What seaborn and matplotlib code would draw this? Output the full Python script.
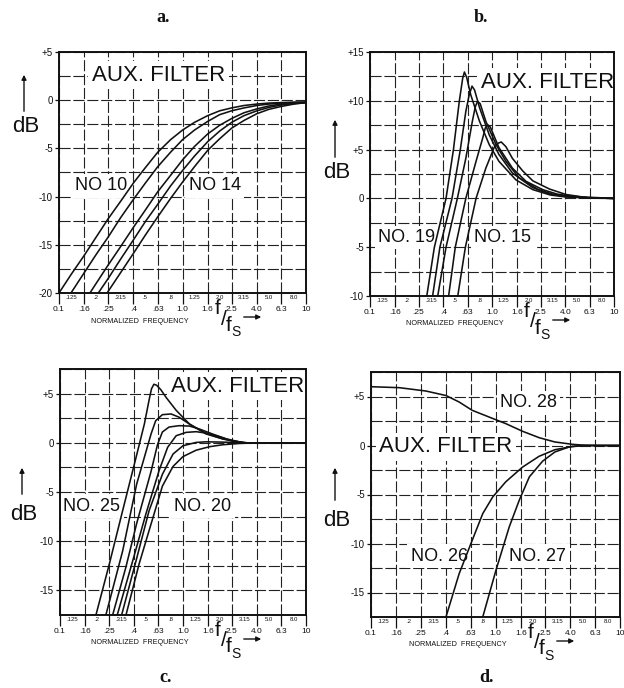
import matplotlib
matplotlib.use("Agg")
import matplotlib.pyplot as plt
import seaborn as sns
from matplotlib.patches import FancyArrowPatch

# ---------------------------------------------------------------- axis tick values
GRID_FREQ = [0.1, 0.16, 0.25, 0.4, 0.63, 1.0, 1.6, 2.5, 4.0, 6.3, 10]
GRID_LABELS = ["0.1", ".16", ".25", ".4", ".63", "1.0", "1.6", "2.5", "4.0", "6.3", "10"]
MID_FREQ = [0.125, 0.2, 0.315, 0.5, 0.8, 1.25, 2.0, 3.15, 5.0, 8.0]
MID_LABELS = [".125", ".2", ".315", ".5", ".8", "1.25", "2.0", "3.15", "5.0", "8.0"]

# ---------------------------------------------------------------- a. filters No 10 .. No 14
A10_F = [0.1, 0.125, 0.16, 0.2, 0.25, 0.315, 0.4, 0.5, 0.63, 0.8, 1.0, 1.25, 1.6, 2.0, 2.5, 3.15, 4.0, 5.0, 6.3, 8.0, 10]
A10_DB = [-20.0, -18.1, -16.1, -14.2, -12.3, -10.5, -8.6, -7.0, -5.4, -4.1, -3.1, -2.3, -1.6, -1.1, -0.8, -0.55, -0.4, -0.3, -0.25, -0.2, -0.2]
A11_F = [0.125, 0.16, 0.2, 0.25, 0.315, 0.4, 0.5, 0.63, 0.8, 1.0, 1.25, 1.6, 2.0, 2.5, 3.15, 4.0, 5.0, 6.3, 8.0, 10]
A11_DB = [-20.0, -17.9, -16.0, -14.2, -12.2, -10.3, -8.6, -6.9, -5.4, -4.1, -3.1, -2.2, -1.5, -1.1, -0.8, -0.55, -0.4, -0.3, -0.25, -0.2]
A12_F = [0.178, 0.2, 0.25, 0.315, 0.4, 0.5, 0.63, 0.8, 1.0, 1.25, 1.6, 2.0, 2.5, 3.15, 4.0, 5.0, 6.3, 8.0, 10]
A12_DB = [-20.0, -19.0, -17.1, -15.2, -13.2, -11.4, -9.5, -7.8, -6.2, -4.8, -3.5, -2.6, -1.9, -1.3, -0.9, -0.6, -0.4, -0.3, -0.25]
A13_F = [0.208, 0.25, 0.315, 0.4, 0.5, 0.63, 0.8, 1.0, 1.25, 1.6, 2.0, 2.5, 3.15, 4.0, 5.0, 6.3, 8.0, 10]
A13_DB = [-20.0, -18.5, -16.5, -14.5, -12.6, -10.8, -8.9, -7.3, -5.8, -4.3, -3.2, -2.3, -1.6, -1.1, -0.75, -0.5, -0.35, -0.25]
A14_F = [0.245, 0.315, 0.4, 0.5, 0.63, 0.8, 1.0, 1.25, 1.6, 2.0, 2.5, 3.15, 4.0, 5.0, 6.3, 8.0, 10]
A14_DB = [-20.0, -17.9, -15.9, -14.0, -12.1, -10.2, -8.5, -6.9, -5.2, -4.0, -2.9, -2.1, -1.4, -0.95, -0.65, -0.4, -0.25]

# ---------------------------------------------------------------- b. filters No 15 .. No 19
B19_F = [0.292, 0.337, 0.42, 0.483, 0.54, 0.575, 0.594, 0.62, 0.67, 0.79, 0.95, 1.14, 1.57, 2.16, 3.0, 4.0, 6.3, 10]
B19_DB = [-10, -5, 0, 5, 10, 12.3, 12.95, 12.4, 10.6, 7.9, 5.5, 3.8, 1.9, 0.9, 0.35, 0.15, 0.03, 0]
B18_F = [0.326, 0.374, 0.47, 0.55, 0.61, 0.65, 0.686, 0.72, 0.79, 0.95, 1.14, 1.47, 2.16, 3.0, 4.0, 6.3, 10]
B18_DB = [-10, -5, 0, 5, 8.9, 10.6, 11.5, 11.1, 9.3, 6.5, 4.5, 2.6, 1.1, 0.45, 0.2, 0.05, 0]
B17_F = [0.359, 0.42, 0.52, 0.61, 0.69, 0.73, 0.762, 0.8, 0.89, 1.08, 1.3, 1.67, 2.4, 3.2, 4.0, 6.3, 10]
B17_DB = [-10, -5, 0, 4.1, 7.9, 9.4, 9.95, 9.7, 7.9, 5.5, 3.8, 2.1, 0.9, 0.4, 0.2, 0.05, 0]
B16_F = [0.441, 0.5, 0.61, 0.74, 0.84, 0.88, 0.922, 0.97, 1.14, 1.47, 1.9, 2.6, 3.4, 4.04, 6.3, 10]
B16_DB = [-10, -5, 0, 3.8, 6.2, 7.2, 7.55, 7.3, 5.2, 3.1, 1.75, 0.9, 0.45, 0.3, 0.07, 0]
B15_F = [0.524, 0.605, 0.74, 0.89, 1.04, 1.12, 1.19, 1.3, 1.47, 1.79, 2.16, 2.96, 4.04, 5.5, 10]
B15_DB = [-10, -5, 0, 3.1, 5.2, 5.65, 5.78, 5.3, 4.1, 2.8, 1.8, 0.96, 0.4, 0.15, 0]

# ---------------------------------------------------------------- c. filters No 20 .. No 25
C25_F = [0.196, 0.252, 0.323, 0.415, 0.485, 0.532, 0.555, 0.58, 0.61, 0.66, 0.73, 0.88, 1.13, 1.54, 2.1, 2.7, 3.3, 10]
C25_DB = [-17.5, -12.3, -6.9, -1.5, 1.9, 4.45, 5.5, 5.95, 5.85, 5.4, 4.6, 3.3, 1.9, 0.9, 0.4, 0.1, 0, 0]
C24_F = [0.236, 0.323, 0.42, 0.55, 0.6, 0.68, 0.8, 0.93, 1.13, 1.54, 2.1, 3.1, 10]
C24_DB = [-17.5, -11.0, -4.2, 0.9, 2.25, 2.86, 2.93, 2.6, 1.9, 0.95, 0.4, 0, 0]
C23_F = [0.268, 0.344, 0.42, 0.55, 0.62, 0.68, 0.77, 0.93, 1.13, 1.36, 1.75, 2.25, 3.1, 10]
C23_DB = [-17.5, -12.6, -8.2, -2.9, -0.2, 1.1, 1.6, 1.74, 1.7, 1.4, 0.88, 0.4, 0, 0]
C22_F = [0.292, 0.39, 0.5, 0.64, 0.75, 0.88, 1.06, 1.28, 1.54, 1.97, 2.5, 3.3, 10]
C22_DB = [-17.5, -12.0, -7.2, -2.8, -0.46, 0.72, 1.06, 1.13, 0.99, 0.62, 0.2, 0, 0]
C21_F = [0.317, 0.415, 0.53, 0.68, 0.83, 1.0, 1.28, 1.54, 2.1, 3.1, 10]
C21_DB = [-17.5, -12.0, -6.9, -3.2, -1.14, -0.3, 0.04, 0.1, 0.07, 0, 0]
C20_F = [0.344, 0.44, 0.57, 0.68, 0.83, 1.0, 1.28, 1.64, 2.1, 2.85, 3.9, 10]
C20_DB = [-17.5, -12.3, -7.6, -4.4, -2.4, -1.4, -0.75, -0.4, -0.2, -0.07, 0, 0]

# ---------------------------------------------------------------- d. filters No 26 .. No 28
D28_F = [0.1, 0.169, 0.276, 0.4, 0.51, 0.65, 0.89, 1.21, 1.65, 2.24, 3.0, 4.15, 5.3, 6.8, 10]
D28_DB = [6.0, 5.9, 5.56, 5.1, 4.44, 3.59, 2.9, 2.23, 1.45, 0.8, 0.36, 0.12, 0.02, 0, 0]
D26_F = [0.4, 0.51, 0.635, 0.79, 0.95, 1.21, 1.65, 2.24, 3.0, 4.15, 5.3, 10]
D26_DB = [-17.5, -13.1, -10.0, -6.95, -5.25, -3.7, -2.2, -1.1, -0.43, -0.09, 0, 0]
D27_F = [0.79, 1.01, 1.29, 1.55, 1.87, 2.39, 3.0, 3.9, 5.0, 10]
D27_DB = [-17.5, -12.7, -8.3, -5.6, -3.2, -1.6, -0.66, -0.15, 0, 0]

# ---------------------------------------------------------------- style
sns.set_style("white")
plt.rcParams["font.family"] = ["Liberation Sans", "DejaVu Sans"]

W, H = 624, 688
fig = plt.figure(figsize=(W / 100, H / 100), dpi=100)
fig.patch.set_facecolor("white")

INK = "#111111"
GRID_KW = dict(color="#222222", lw=0.8, ls=(0, (10, 2.5)))


def fx(x):
    return x / W


def fy(y):
    return 1 - y / H


def make_axes(left, top, right, bottom):
    return fig.add_axes([left / W, 1 - bottom / H, (right - left) / W, (bottom - top) / H])


def setup(ax, ylo, yhi, ylab_vals, ylab_text):
    ax.set_xscale("log")
    ax.set_xlim(0.1, 10)
    ax.set_ylim(ylo, yhi)
    ax.set_xticks(GRID_FREQ)
    ax.set_xticklabels(GRID_LABELS)
    ax.set_xticks(MID_FREQ, minor=True)
    ax.set_xticklabels(MID_LABELS, minor=True)
    ax.set_yticks(ylab_vals)
    ax.set_yticklabels(ylab_text)
    minor_y = []
    v = ylo
    while v <= yhi + 1e-9:
        if abs(v / 5 - round(v / 5)) > 1e-6:
            minor_y.append(v)
        v += 2.5
    ax.set_yticks(minor_y, minor=True)
    ax.tick_params(axis="x", which="major", bottom=True, length=8, width=0.9,
                   pad=1.5, labelsize=6, colors=INK, direction="out")
    ax.tick_params(axis="x", which="minor", bottom=True, length=0, pad=1.3,
                   labelsize=4.3, colors=INK)
    ax.tick_params(axis="y", which="major", left=True, length=3, width=0.9,
                   pad=1.5, labelsize=7, colors=INK)
    ax.tick_params(axis="y", which="minor", left=True, length=0)
    ax.set_axisbelow(True)
    ax.xaxis.grid(True, which="major", **GRID_KW)
    ax.yaxis.grid(True, which="both", **GRID_KW)
    for s in ax.spines.values():
        s.set_visible(True)
        s.set_color(INK)
        s.set_linewidth(1.4)
    ax.set_xlabel("")
    ax.set_ylabel("")


def curve(ax, f, db):
    sns.lineplot(x=f, y=db, ax=ax, color=INK, lw=1.15, estimator=None,
                 sort=False, zorder=4)


def tag(ax, x, y, s, size):
    ax.text(x, y, s, ha="center", va="center", fontsize=size, color=INK,
            zorder=2.2, bbox=dict(facecolor="white", edgecolor="none", pad=2.5))


def arrow(x0, y0, x1, y1):
    fig.add_artist(FancyArrowPatch((fx(x0), fy(y0)), (fx(x1), fy(y1)),
                                   transform=fig.transFigure, arrowstyle="-|>",
                                   mutation_scale=7, lw=1.0, color=INK))


def decorations(db_x, db_y, arr_top, arr_bot, nf_x, nf_y, fs_x, fs_y):
    # vertical dB arrow and label
    arrow(db_x - 2, arr_bot, db_x - 2, arr_top)
    fig.text(fx(db_x), fy(db_y), "dB", ha="center", va="center", fontsize=16, color=INK)
    # frequency axis caption
    fig.text(fx(nf_x), fy(nf_y), "NORMALIZED  FREQUENCY", ha="center", va="center",
             fontsize=5.2, color=INK)
    # stacked f / f_S fraction with a pointer to the right
    fig.text(fx(fs_x), fy(fs_y), "f", ha="center", va="center", fontsize=15, color=INK)
    fig.text(fx(fs_x + 6), fy(fs_y + 10), "/", ha="center", va="center", fontsize=15, color=INK)
    fig.text(fx(fs_x + 11), fy(fs_y + 16), "f", ha="center", va="center", fontsize=15, color=INK)
    fig.text(fx(fs_x + 18), fy(fs_y + 23), "S", ha="center", va="center", fontsize=10, color=INK)
    arrow(fs_x + 23, fs_y + 8, fs_x + 46, fs_y + 8)


# ---------------------------------------------------------------- panel a
ax_a = make_axes(59, 52, 306, 293)
setup(ax_a, -20, 5, [5, 0, -5, -10, -15, -20], ["+5", "0", "-5", "-10", "-15", "-20"])
for f, d in [(A10_F, A10_DB), (A11_F, A11_DB), (A12_F, A12_DB), (A13_F, A13_DB), (A14_F, A14_DB)]:
    curve(ax_a, f, d)
tag(ax_a, 0.64, 2.6, "AUX. FILTER", 16)
tag(ax_a, 0.218, -8.9, "NO 10", 13)
tag(ax_a, 1.82, -8.9, "NO 14", 13)
decorations(26, 127, 72, 114, 140, 321, 218, 309)

# ---------------------------------------------------------------- panel b
ax_b = make_axes(370, 52, 614, 296)
setup(ax_b, -10, 15, [15, 10, 5, 0, -5, -10], ["+15", "+10", "+5", "0", "-5", "-10"])
for f, d in [(B19_F, B19_DB), (B18_F, B18_DB), (B17_F, B17_DB), (B16_F, B16_DB), (B15_F, B15_DB)]:
    curve(ax_b, f, d)
tag(ax_b, 2.85, 11.9, "AUX. FILTER", 16)
tag(ax_b, 0.2, -4.0, "NO. 19", 13)
tag(ax_b, 1.23, -4.0, "NO. 15", 13)
decorations(337, 172, 117, 160, 455, 324, 527, 312)

# ---------------------------------------------------------------- panel c
ax_c = make_axes(60, 369, 306, 615)
setup(ax_c, -17.5, 7.5, [5, 0, -5, -10, -15], ["+5", "0", "-5", "-10", "-15"])
for f, d in [(C25_F, C25_DB), (C24_F, C24_DB), (C23_F, C23_DB), (C22_F, C22_DB),
             (C21_F, C21_DB), (C20_F, C20_DB)]:
    curve(ax_c, f, d)
tag(ax_c, 2.77, 5.74, "AUX. FILTER", 16)
tag(ax_c, 0.181, -6.45, "NO. 25", 13)
tag(ax_c, 1.45, -6.45, "NO. 20", 13)
decorations(24, 515, 465, 497, 140, 643, 218, 631)

# ---------------------------------------------------------------- panel d
ax_d = make_axes(371, 372, 620, 617)
setup(ax_d, -17.5, 7.5, [5, 0, -5, -10, -15], ["+5", "0", "-5", "-10", "-15"])
for f, d in [(D28_F, D28_DB), (D26_F, D26_DB), (D27_F, D27_DB)]:
    curve(ax_d, f, d)
tag(ax_d, 0.4, -0.15, "AUX. FILTER", 16)
tag(ax_d, 1.84, 4.37, "NO. 28", 13)
tag(ax_d, 0.354, -11.3, "NO. 26", 13)
tag(ax_d, 2.18, -11.3, "NO. 27", 13)
decorations(337, 520, 465, 503, 458, 645, 531, 633)

# ---------------------------------------------------------------- panel letters
for x, y, s in [(163, 18, "a."), (481, 18, "b."), (166, 677, "c."), (486, 677, "d.")]:
    fig.text(fx(x), fy(y), s, ha="center", va="center", fontsize=13,
             fontweight="bold", family=["Liberation Serif", "DejaVu Serif"], color=INK)

fig.savefig("out.png", dpi=100, facecolor="white")
